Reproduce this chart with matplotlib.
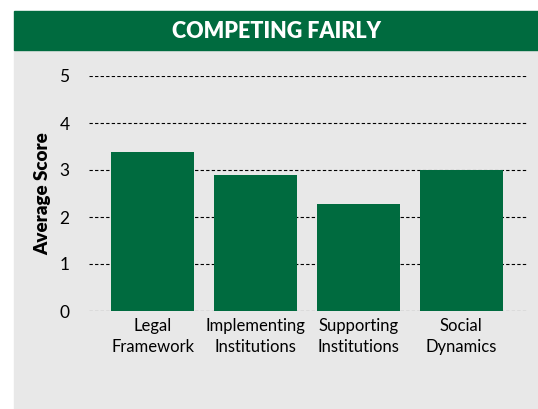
import matplotlib.pyplot as plt
from matplotlib.patches import Rectangle

# data
categories = ["Legal\nFramework", "Implementing\nInstitutions", "Supporting\nInstitutions", "Social\nDynamics"]
scores = [3.38, 2.89, 2.28, 3.0]
yticks = [0, 1, 2, 3, 4, 5]

green = "#006B3F"
grey = "#E8E8E8"

plt.rcParams['font.family'] = ['Lato', 'DejaVu Sans']

fig = plt.figure(figsize=(5.38, 4.09), dpi=100)
fig.patch.set_facecolor("white")

W, H = 538, 409
# grey panel and green header
fig.patches.append(Rectangle((14 / W, 0), 1 - 14 / W, (H - 50) / H,
                             transform=fig.transFigure, color=grey, zorder=-5))
fig.patches.append(Rectangle((14 / W, (H - 50) / H), 1 - 14 / W, 39 / H,
                             transform=fig.transFigure, color=green, zorder=-5))
fig.text((14 + W) / 2 / W, (H - 31) / H, "COMPETING FAIRLY", color="white",
         fontsize=15.5, fontweight="heavy", ha="center", va="center")

ax = fig.add_axes([89 / W, (H - 311) / H, 438 / W, 235 / H])
ax.set_facecolor("none")
x = range(len(categories))
ax.bar(x, scores, width=0.806, color=green, zorder=2)

ax.set_xlim(-0.62, 3.64)
ax.set_ylim(0, 5)
ax.set_yticks(yticks)
ax.set_yticklabels([str(t) for t in yticks], fontsize=12.5)
ax.set_xticks(list(x))
ax.set_xticklabels(categories, fontsize=12, linespacing=1.4)
ax.tick_params(axis='y', length=0, pad=14)
ax.tick_params(axis='x', length=0, pad=5)
for t in yticks:
    ax.axhline(t, color="black", lw=0.8, ls=(0, (3, 2)), zorder=1)
for s in ax.spines.values():
    s.set_visible(False)

ax.set_ylabel("Average Score", fontsize=13.5, fontweight="heavy", labelpad=6)

fig.savefig("out.png", dpi=100)
